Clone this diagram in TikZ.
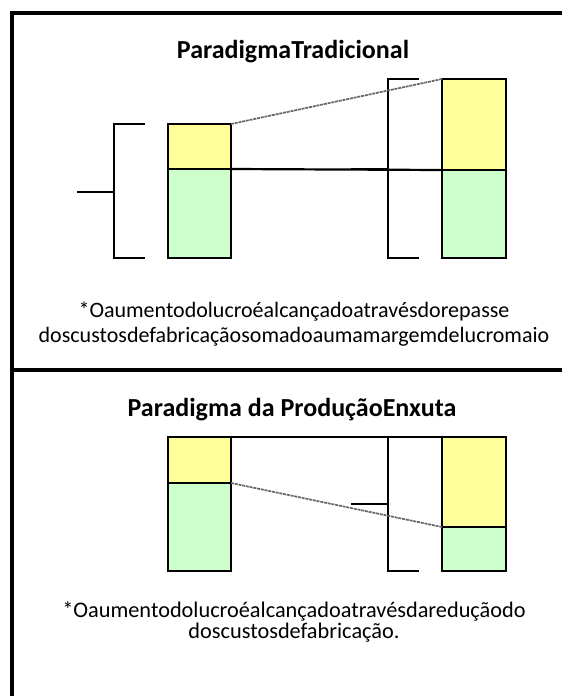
\documentclass[tikz,border=0pt]{standalone}
\usepackage{fontspec}
\setmainfont{Carlito}
\definecolor{lyellow}{HTML}{FFFF99}
\definecolor{lgreen}{HTML}{CCFFCC}
\begin{document}
\begin{tikzpicture}[x=1pt,y=-1pt,
  frameline/.style={line width=3.5pt},
  barpart/.style={draw, line width=1.8pt, inner sep=0pt, outer sep=0pt},
  profit/.style={barpart, fill=lyellow},
  cost/.style={barpart, fill=lgreen},
  brace/.style={line width=1.8pt},
  link/.style={line width=2.2pt},
  slope/.style={line width=1.7pt, black!60, dash pattern=on 3pt off 0.8pt},
  heading/.style={font=\fontsize{26}{30}\selectfont\bfseries, inner sep=0pt},
  note/.style={align=center, inner sep=0pt}]
\useasboundingbox (0,0) rectangle (562,696);
\fill[white] (0,0) rectangle (562,696);
% frame
\draw[frameline] (12,698) -- (12,13) -- (564,13);
\draw[frameline] (12,370) -- (564,370);
% ---- top panel ----
\node[heading] (t1) at (293,52) {ParadigmaTradicional};
\node[profit, minimum width=63pt, minimum height=45pt] (y1) at (199.5,146.5) {};
\node[cost, minimum width=63pt, minimum height=89pt] (g1) at (199.5,213.5) {};
\node[profit, minimum width=64pt, minimum height=91pt] (y2) at (474,124.5) {};
\node[cost, minimum width=64pt, minimum height=88pt] (g2) at (474,214) {};
\coordinate (lbt) at (145,124);
\coordinate (lbb) at (145,258);
\coordinate (lbm) at (77,192);
\draw[brace] (lbt) -- (114,124) -- (114,258) -- (lbb);
\draw[brace] (lbm) -- (114,192);
\coordinate (rbt) at (419,79);
\coordinate (rbb) at (419,258);
\coordinate (rbm) at (351,169);
\draw[brace] (rbt) -- (388,79) -- (388,258) -- (rbb);
\draw[brace] (rbm) -- (388,169);
\draw[link] (g1.north east) -- (g2.north west);
\draw[slope] (y1.north east) -- (y2.north west);
\node[note, font=\fontsize{22}{25}\selectfont] (n1) at (294,324.5)
  {*Oaumentodolucroéalcançadoatravésdorepasse\\doscustosdefabricaçãosomadoaumamargemdelucromaio};
% ---- bottom panel ----
\node[heading] (t2) at (292,410) {Paradigma da ProduçãoEnxuta};
\node[profit, minimum width=63pt, minimum height=46pt] (y3) at (199.5,460) {};
\node[cost, minimum width=63pt, minimum height=88pt] (g3) at (199.5,527) {};
\node[profit, minimum width=64pt, minimum height=90pt] (y4) at (474,482) {};
\node[cost, minimum width=64pt, minimum height=44pt] (g4) at (474,549) {};
\draw[link] (y3.north east) -- (y4.north west);
\coordinate (rb2t) at (388,437);
\coordinate (rb2b) at (419,571);
\coordinate (rb2m) at (351,504);
\draw[brace] (rb2t) -- (388,571) -- (rb2b);
\draw[brace] (rb2m) -- (388,504);
\draw[slope] (g3.north east) -- (g4.north west);
\node[note, font=\fontsize{22.3}{21}\selectfont] (n2) at (294,622)
  {*Oaumentodolucroéalcançadoatravésdareduçãodo\\doscustosdefabricação.};
\end{tikzpicture}
\end{document}
